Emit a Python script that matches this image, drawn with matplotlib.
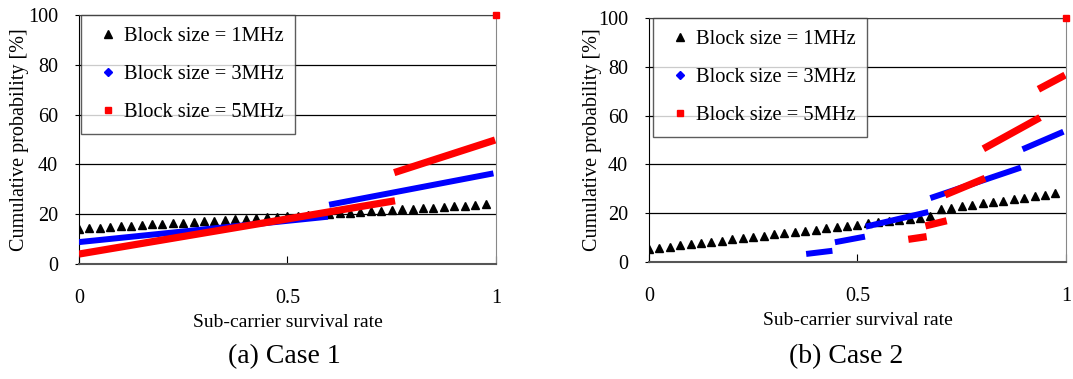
import matplotlib
matplotlib.use("Agg")
import matplotlib.pyplot as plt
from matplotlib.lines import Line2D

plt.rcParams['font.family'] = ['Liberation Serif', 'DejaVu Serif']

# survival rate steps for the 1MHz series (same in both cases)
x_1mhz = [0.0, 0.025, 0.05, 0.075, 0.1, 0.125, 0.15, 0.175, 0.2, 0.225,
          0.25, 0.275, 0.3, 0.325, 0.35, 0.375, 0.4, 0.425, 0.45, 0.475,
          0.5, 0.525, 0.55, 0.575, 0.6, 0.625, 0.65, 0.675, 0.7, 0.725,
          0.75, 0.775, 0.8, 0.825, 0.85, 0.875, 0.9, 0.925, 0.95, 0.975]

# case 1
c1_1mhz = [14.1, 14.4, 14.6, 14.9, 15.1, 15.4, 15.6, 15.9, 16.1, 16.4,
           16.6, 16.9, 17.1, 17.4, 17.6, 17.9, 18.2, 18.4, 18.7, 18.9,
           19.2, 19.4, 19.7, 19.9, 20.1, 20.4, 20.6, 20.9, 21.1, 21.4,
           21.6, 21.9, 22.1, 22.4, 22.6, 22.9, 23.1, 23.4, 23.6, 24.0]
# dense runs: start x, start y, end x, end y
c1_3mhz_x0 = [0.0, 0.600]
c1_3mhz_y0 = [8.8, 23.8]
c1_3mhz_x1 = [0.597, 0.994]
c1_3mhz_y1 = [19.0, 36.4]
c1_5mhz_x0 = [0.0, 0.756]
c1_5mhz_y0 = [4.0, 36.7]
c1_5mhz_x1 = [0.758, 0.998]
c1_5mhz_y1 = [25.4, 49.8]

# case 2
c2_1mhz = [5.3, 5.8, 6.3, 6.8, 7.3, 7.8, 8.3, 8.8, 9.3, 9.8,
           10.3, 10.8, 11.3, 11.8, 12.3, 12.8, 13.3, 13.8, 14.3, 14.8,
           15.3, 15.8, 16.2, 16.7, 17.2, 17.7, 18.2, 18.7, 21.6, 22.2,
           22.8, 23.4, 24.0, 24.6, 25.2, 25.8, 26.4, 27.0, 27.6, 28.2]
c2_3mhz_x0 = [0.377, 0.446, 0.520, 0.675, 0.896]
c2_3mhz_y0 = [3.3, 8.1, 14.5, 26.2, 46.2]
c2_3mhz_x1 = [0.440, 0.518, 0.670, 0.892, 0.994]
c2_3mhz_y1 = [4.6, 10.4, 20.5, 38.7, 53.4]
c2_5mhz_x0 = [0.622, 0.663, 0.710, 0.802, 0.934]
c2_5mhz_y0 = [9.3, 14.8, 27.5, 46.4, 70.8]
c2_5mhz_x1 = [0.666, 0.714, 0.806, 0.938, 0.998]
c2_5mhz_y1 = [10.4, 16.9, 34.3, 59.2, 76.6]

end_x = 1.0
end_y = 100.0

labels = ['Block size = 1MHz', 'Block size = 3MHz', 'Block size = 5MHz']
captions = ['(a) Case 1', '(b) Case 2']


def draw(ax, y1, b, r, leg_x, ylab_pad):
    ax.plot(x_1mhz, y1, linestyle='none', marker='^', color='black',
            markersize=5.8, zorder=3)
    for x0, y0, x1, yy1 in zip(*b):
        ax.plot([x0, x1], [y0, yy1], color='#0000ff', lw=4.3,
                solid_capstyle='butt', zorder=4)
    for x0, y0, x1, yy1 in zip(*r):
        ax.plot([x0, x1], [y0, yy1], color='#ff0000', lw=5.2,
                solid_capstyle='butt', zorder=5)
    ax.plot([end_x], [end_y], linestyle='none', marker='s', color='#ff0000',
            markersize=5, clip_on=False, zorder=6)

    ax.set_xlim(0, 1)
    ax.set_ylim(0, 100)
    ax.set_xticks([0, 0.5, 1])
    ax.set_xticklabels(['0', '0.5', '1'])
    ax.set_yticks([0, 20, 40, 60, 80, 100])
    ax.yaxis.grid(True, color='black', lw=0.9)
    ax.set_axisbelow(True)
    ax.tick_params(axis='x', direction='in', length=6, pad=18, labelsize=14.5)
    ax.tick_params(axis='y', direction='out', length=3, pad=12, labelsize=14.5)
    ax.spines['left'].set_color('black')
    ax.spines['bottom'].set_color('#555555')
    ax.spines['bottom'].set_linewidth(1.5)
    ax.spines['right'].set_color('#888888')
    ax.spines['top'].set_color('#444444')
    ax.set_xlabel('Sub-carrier survival rate', fontsize=14, labelpad=4)
    ax.set_ylabel('Cumulative probability [%]', fontsize=14.5, labelpad=ylab_pad)

    handles = [
        Line2D([], [], linestyle='none', marker='^', color='black', markersize=6),
        Line2D([], [], linestyle='none', marker='D', color='#0000ff', markersize=4),
        Line2D([], [], linestyle='none', marker='s', color='#ff0000', markersize=5),
    ]
    leg = ax.legend(handles, labels, loc='upper left', bbox_to_anchor=(leg_x, 1.0),
                    borderaxespad=0, fontsize=14.8, frameon=True, fancybox=False,
                    handlelength=1.5, handletextpad=0.05, borderpad=0.55,
                    labelspacing=0.92)
    leg.get_frame().set_edgecolor('#333333')
    leg.get_frame().set_linewidth(1.0)
    leg.set_zorder(10)


fig = plt.figure(figsize=(10.73, 3.79), dpi=100)
ax1 = fig.add_axes([0.0736, 0.3034, 0.3886, 0.657])
ax2 = fig.add_axes([0.6048, 0.3087, 0.3886, 0.6438])

draw(ax1, c1_1mhz,
     (c1_3mhz_x0, c1_3mhz_y0, c1_3mhz_x1, c1_3mhz_y1),
     (c1_5mhz_x0, c1_5mhz_y0, c1_5mhz_x1, c1_5mhz_y1), 0.005, -1)
draw(ax2, c2_1mhz,
     (c2_3mhz_x0, c2_3mhz_y0, c2_3mhz_x1, c2_3mhz_y1),
     (c2_5mhz_x0, c2_5mhz_y0, c2_5mhz_x1, c2_5mhz_y1), 0.01, -3)

fig.text(0.265, 0.06, captions[0], ha='center', va='center', fontsize=20)
fig.text(0.789, 0.06, captions[1], ha='center', va='center', fontsize=20)

fig.savefig('out.png', dpi=100)
